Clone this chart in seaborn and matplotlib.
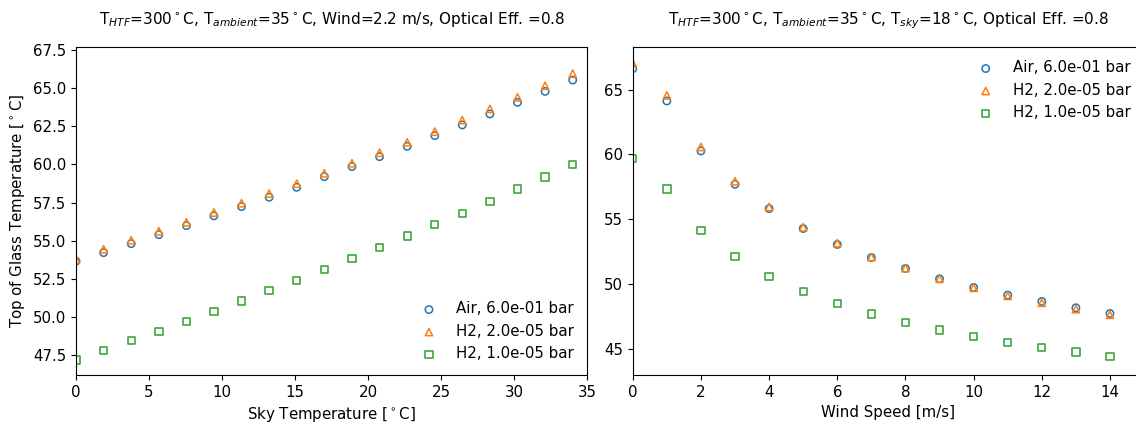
import matplotlib
matplotlib.use('Agg')
import matplotlib.pyplot as plt
import seaborn as sns

# Sky temperature sweep (left panel)
sky_temp = [0.0, 1.89, 3.78, 5.67, 7.56, 9.44, 11.33, 13.22, 15.11, 17.0,
            18.89, 20.78, 22.67, 24.56, 26.44, 28.33, 30.22, 32.11, 34.0]
air_sky = [53.66, 54.22, 54.81, 55.40, 55.99, 56.63, 57.24, 57.85, 58.50, 59.20,
           59.86, 60.51, 61.19, 61.89, 62.59, 63.31, 64.07, 64.79, 65.53]
h2_hi_sky = [53.77, 54.44, 55.03, 55.62, 56.21, 56.85, 57.46, 58.09, 58.74, 59.42,
             60.08, 60.77, 61.45, 62.15, 62.91, 63.64, 64.40, 65.16, 65.95]
h2_lo_sky = [47.19, 47.81, 48.44, 49.07, 49.71, 50.38, 51.06, 51.74, 52.41, 53.13,
             53.85, 54.57, 55.32, 56.06, 56.80, 57.59, 58.38, 59.18, 59.99]

# Wind speed sweep (right panel)
wind = [0, 1, 2, 3, 4, 5, 6, 7, 8, 9, 10, 11, 12, 13, 14]
air_wind = [66.62, 64.13, 60.27, 57.70, 55.82, 54.28, 53.05, 52.04, 51.20, 50.40,
            49.73, 49.14, 48.65, 48.16, 47.72]
h2_hi_wind = [67.06, 64.56, 60.58, 57.93, 55.95, 54.38, 53.15, 52.08, 51.22, 50.40,
              49.70, 49.08, 48.55, 48.06, 47.62]
h2_lo_wind = [59.70, 57.34, 54.15, 52.10, 50.58, 49.42, 48.50, 47.67, 47.03, 46.44,
              45.93, 45.49, 45.10, 44.74, 44.41]

labels = ['Air, 6.0e-01 bar', 'H2, 2.0e-05 bar', 'H2, 1.0e-05 bar']
markers = ['o', '^', 's']
colors = ['#1f77b4', '#ff7f0e', '#2ca02c']

sky_ticks = [0, 5, 10, 15, 20, 25, 30, 35]
sky_yticks = [47.5, 50.0, 52.5, 55.0, 57.5, 60.0, 62.5, 65.0, 67.5]
wind_ticks = [0, 2, 4, 6, 8, 10, 12, 14]
wind_yticks = [45, 50, 55, 60, 65]

plt.rcParams['font.family'] = ['DejaVu Sans']
plt.rcParams['font.size'] = 10.8
plt.rcParams['mathtext.fontset'] = 'dejavusans'

fig = plt.figure(figsize=(11.36, 4.24), dpi=100)
ax1 = fig.add_axes([0.0669, 0.1156, 0.4501, 0.7736])
ax2 = fig.add_axes([0.5570, 0.1156, 0.4501, 0.7736])

# left: top of glass temperature vs sky temperature
for y, lab, m, c in zip([air_sky, h2_hi_sky, h2_lo_sky], labels, markers, colors):
    sns.scatterplot(x=sky_temp, y=y, ax=ax1, marker=m, s=28, facecolor='none',
                    edgecolor=c, linewidth=1.1, label=lab)
ax1.set_xlim(0, 35)
ax1.set_ylim(46.2, 67.7)
ax1.set_xticks(sky_ticks)
ax1.set_yticks(sky_yticks)
ax1.set_xlabel('Sky Temperature [$^\\circ$C]')
ax1.set_ylabel('Top of Glass Temperature [$^\\circ$C]')
ax1.set_title('T$_{HTF}$=300$^\\circ$C, T$_{ambient}$=35$^\\circ$C, Wind=2.2 m/s, Optical Eff. =0.8',
              fontsize=11, pad=16.5)
ax1.legend(loc='lower right', frameon=False)

# right: top of glass temperature vs wind speed
for y, lab, m, c in zip([air_wind, h2_hi_wind, h2_lo_wind], labels, markers, colors):
    sns.scatterplot(x=wind, y=y, ax=ax2, marker=m, s=28, facecolor='none',
                    edgecolor=c, linewidth=1.1, label=lab)
ax2.set_xlim(0, 15)
ax2.set_ylim(42.97, 68.3)
ax2.set_xticks(wind_ticks)
ax2.set_yticks(wind_yticks)
ax2.set_xlabel('Wind Speed [m/s]')
ax2.set_ylabel('')
ax2.set_title('T$_{HTF}$=300$^\\circ$C, T$_{ambient}$=35$^\\circ$C, T$_{sky}$=18$^\\circ$C, Optical Eff. =0.8',
              fontsize=11, pad=16.5)
ax2.legend(loc='upper right', frameon=False)

fig.savefig('out.png', dpi=100)
